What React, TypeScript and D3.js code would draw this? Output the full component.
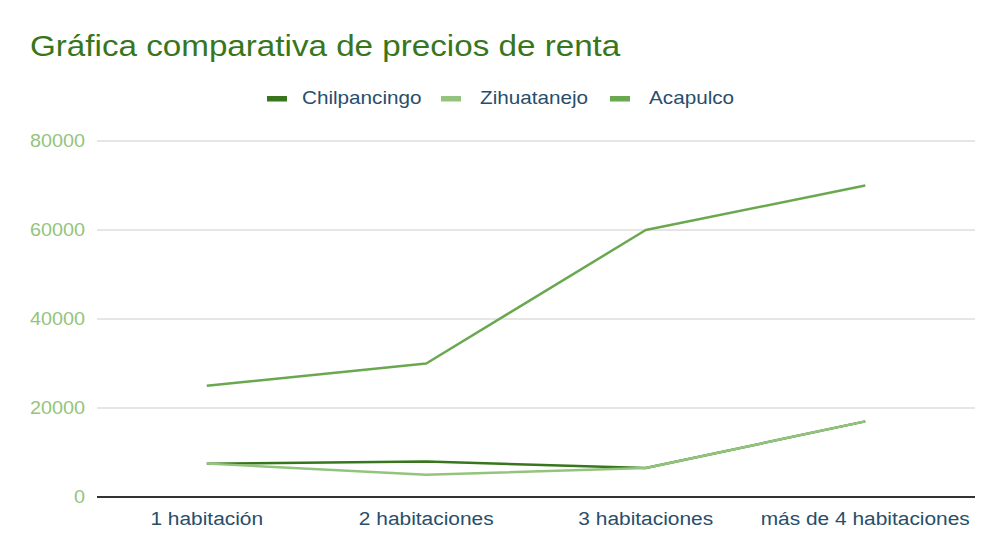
import React from "react";
import * as d3 from "d3";

const categories = ["1 habitación", "2 habitaciones", "3 habitaciones", "más de 4 habitaciones"];
const seriesNames = ["Chilpancingo", "Zihuatanejo", "Acapulco"];
const chilpancingo = [7500, 8000, 6500, 17000];
const zihuatanejo = [7500, 5000, 6500, 17000];
const acapulco = [25000, 30000, 60000, 70000];
const yTicks = [0, 20000, 40000, 60000, 80000];
const colors = ["#38761d", "#93c47d", "#6aa84f"];

const W = 1003, H = 560;
const left = 97, right = 975, top = 141, bottom = 497;
const font = "Arial, 'Liberation Sans', sans-serif";

function T({ x, y, sx, size, fill, anchor = "start", children }: any) {
  return (
    <text transform={`translate(${x},${y}) scale(${sx},1)`} textAnchor={anchor}
      fontFamily={font} fontSize={size} fill={fill}>{children}</text>
  );
}

export default function App() {
  const x = d3.scaleBand().domain(categories).range([left, right]);
  const y = d3.scaleLinear().domain([0, 80000]).range([bottom, top]);
  const series = [chilpancingo, zihuatanejo, acapulco];
  const line = d3.line<number>()
    .x((_, i) => (x(categories[i]) as number) + x.bandwidth() / 2)
    .y((d) => y(d));
  const swatchX = [267, 441, 610];
  const textX = [302, 480, 649];
  return (
    <svg width={W} height={H} style={{ position: "absolute", left: 0, top: 0 }}>
      <rect width={W} height={H} fill="#fff" />
      <T x={30} y={56} sx={1.145} size={29} fill="#38761d">Gráfica comparativa de precios de renta</T>
      {seriesNames.map((n, i) => (
        <g key={n}>
          <rect x={swatchX[i]} y={96} width={20} height={5.5} fill={colors[i]} />
          <T x={textX[i]} y={104} sx={1.15} size={18} fill="#274e6b">{n}</T>
        </g>
      ))}
      {yTicks.map((t) => (
        <g key={t}>
          {t !== 0 && <line x1={left} x2={right} y1={y(t)} y2={y(t)} stroke="#cccccc" strokeWidth={1} />}
          <T x={85} y={y(t) + 6} sx={1.1} size={18} fill="#93c47d" anchor="end">{t}</T>
        </g>
      ))}
      {series.map((s, i) => (
        <path key={i} d={line(s) as string} fill="none" stroke={colors[i]} strokeWidth={2.5} strokeLinejoin="round" />
      ))}
      <line x1={left} x2={right} y1={bottom} y2={bottom} stroke="#333333" strokeWidth={2} />
      {categories.map((c) => (
        <T key={c} x={(x(c) as number) + x.bandwidth() / 2} y={525} sx={1.1} size={19} fill="#274e6b" anchor="middle">{c}</T>
      ))}
    </svg>
  );
}
